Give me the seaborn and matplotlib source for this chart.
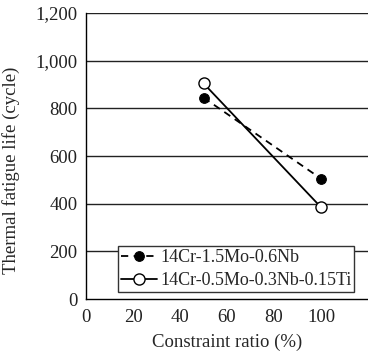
import seaborn as sns
import matplotlib.pyplot as plt
import pandas as pd

# data
ratio = [50, 100]
life_nb = [845, 505]
life_ti = [905, 385]
labels = ['14Cr-1.5Mo-0.6Nb', '14Cr-0.5Mo-0.3Nb-0.15Ti']

df = pd.concat([
    pd.DataFrame({'ratio': ratio, 'life': life_nb, 'alloy': labels[0]}),
    pd.DataFrame({'ratio': ratio, 'life': life_ti, 'alloy': labels[1]}),
])

sns.set_style('white')
plt.rcParams['font.family'] = ['Liberation Serif', 'DejaVu Serif']
plt.rcParams['font.size'] = 13.5

fig = plt.figure(figsize=(3.68, 3.56), dpi=100)
ax = fig.add_axes([0.2337, 0.160, 0.7663, 0.8035])

sns.lineplot(data=df[df.alloy == labels[0]], x='ratio', y='life', ax=ax,
             color='black', linestyle=(0, (4, 3)), lw=1.3, marker='o',
             markersize=7, markerfacecolor='black', markeredgecolor='black',
             label=labels[0])
sns.lineplot(data=df[df.alloy == labels[1]], x='ratio', y='life', ax=ax,
             color='black', lw=1.3, marker='o', markersize=8,
             markerfacecolor='white', markeredgecolor='black', markeredgewidth=1,
             label=labels[1])

ax.set_xlim(0, 120)
ax.set_ylim(0, 1200)
ax.set_xticks([0, 20, 40, 60, 80, 100])
ax.set_yticks(range(0, 1201, 200))
ax.set_yticklabels(['0', '200', '400', '600', '800', '1,000', '1,200'])
for y in range(200, 1201, 200):
    ax.axhline(y, color='#222222', lw=1, zorder=0)
ax.tick_params(axis='x', direction='in', length=4, width=0.8, color='black', pad=7)
ax.tick_params(axis='y', length=0, pad=6)
ax.tick_params(colors='#222222')
for s in ['top', 'right']:
    ax.spines[s].set_visible(False)
for s in ['left', 'bottom']:
    ax.spines[s].set_color('black')
    ax.spines[s].set_linewidth(1)

ax.set_xlabel('Constraint ratio (%)', labelpad=6)
ax.set_ylabel('Thermal fatigue life (cycle)')
ax.yaxis.set_label_coords(-0.235, 0.45)

leg = ax.legend(loc='lower left', bbox_to_anchor=(0.113, 0.024), frameon=True,
                fancybox=False, edgecolor='#333333', framealpha=1,
                handlelength=2.0, handletextpad=0.2, borderaxespad=0,
                borderpad=0.15, labelspacing=0.35, fontsize=13)
leg.get_frame().set_linewidth(1)

fig.savefig('out.png', dpi=100)
